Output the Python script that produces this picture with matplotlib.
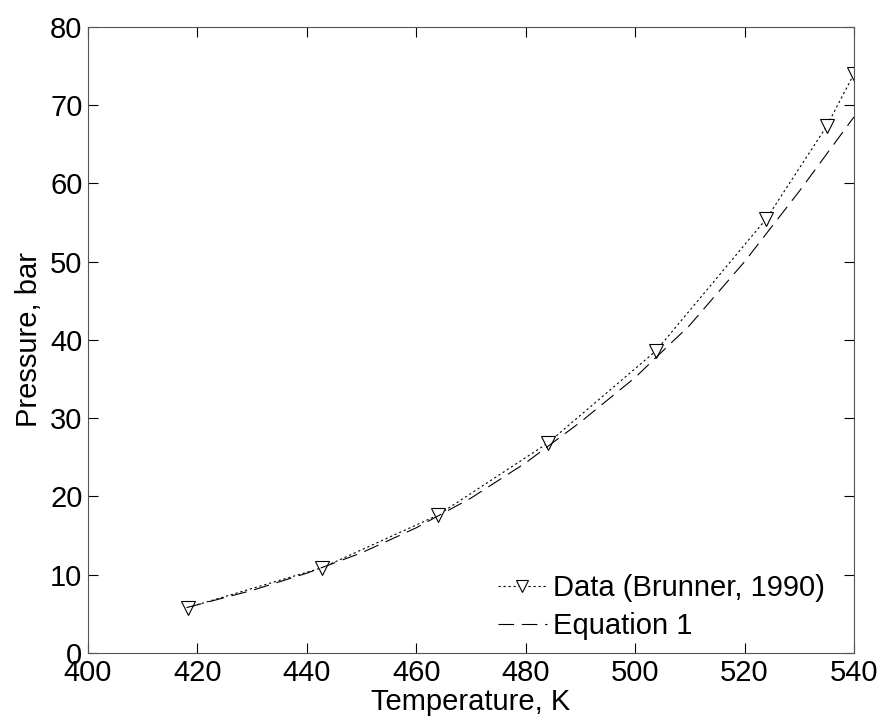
import matplotlib.pyplot as plt

# Data (Brunner, 1990)
temp_data = [418.2, 442.8, 463.9, 484.0, 503.8, 524.0, 535.0, 540.0]
pres_data = [5.8, 10.9, 17.6, 26.8, 38.6, 55.5, 67.3, 74.0]

# Equation 1 curve
temp_eq = [418, 430, 440, 450, 460, 470, 480, 490, 500, 510, 520, 530, 540]
pres_eq = [5.8, 8.0, 10.2, 12.8, 16.0, 19.8, 24.3, 29.5, 35.2, 41.9, 50.0, 59.0, 68.5]

plt.rcParams['font.family'] = ['Liberation Sans', 'DejaVu Sans']
plt.rcParams['font.size'] = 21

fig = plt.figure(figsize=(8.84, 7.21), dpi=100)
ax = fig.add_axes([0.0995, 0.0943, 0.8665, 0.8683])

ax.plot(temp_data, pres_data, linestyle=(0, (2, 2.5)), color='black', linewidth=0.8,
        marker='v', markersize=10, markerfacecolor='white', markeredgecolor='black',
        markeredgewidth=0.8, label='Data (Brunner, 1990)')
ax.plot(temp_eq, pres_eq, linestyle=(0, (14, 7)), color='black', linewidth=0.8,
        label='Equation 1')

ax.set_xlim(400, 540)
ax.set_ylim(0, 80)
ax.set_xticks([400, 420, 440, 460, 480, 500, 520, 540])
ax.set_yticks([0, 10, 20, 30, 40, 50, 60, 70, 80])
ax.tick_params(direction='in', top=True, right=True, length=7, pad=4)
for s in ax.spines.values():
    s.set_color('#555555')

ax.set_xlabel('Temperature, K', labelpad=1)
ax.set_ylabel('Pressure, bar', labelpad=5)

leg = ax.legend(loc='lower right', frameon=False, handlelength=1.7, handletextpad=0.2,
                labelspacing=0.35, borderaxespad=0, borderpad=0,
                bbox_to_anchor=(0.962, 0.02))
leg.legend_handles[0].set_markersize(8)

fig.savefig('out.png', dpi=100)
